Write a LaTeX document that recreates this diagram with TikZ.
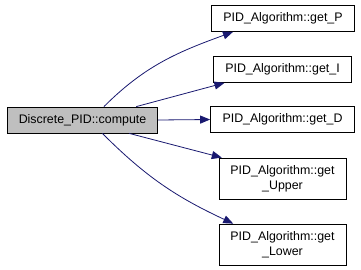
\documentclass[tikz,border=0pt]{standalone}
\usepackage{fontspec}
\setmainfont{Liberation Sans}
\usetikzlibrary{arrows.meta}

\definecolor{edgeblue}{RGB}{25,25,112}
\definecolor{callgray}{RGB}{191,191,191}

\tikzset{
  fn/.style    = {draw=black, line width=0.8pt, fill=white, inner xsep=12pt, inner ysep=3pt,
                  minimum height=26pt, align=center, font=\fontsize{12.4}{15}\selectfont},
  fntwo/.style = {fn, minimum height=41pt, inner xsep=11.5pt},
  caller/.style= {fn, fill=callgray, inner xsep=11.5pt},
  call/.style  = {->, draw=edgeblue, line width=0.8pt}
}

\begin{document}
\begin{tikzpicture}[>={Triangle[length=10pt,width=8pt]}]
  \useasboundingbox (0,0) rectangle (361pt,-270pt);

  % caller on the left, callees stacked on the right
  \node[caller] (compute) at (82.5pt,-120pt) {Discrete\_PID::compute};
  \node[fn] (getP)     at (283pt,-18.5pt)  {PID\_Algorithm::get\_P};
  \node[fn] (getI)     at (282.5pt,-69.5pt) {PID\_Algorithm::get\_I};
  \node[fn] (getD)     at (282.5pt,-119.5pt) {PID\_Algorithm::get\_D};
  \node[fntwo] (getUpper) at (282.5pt,-178.5pt) {PID\_Algorithm::get\\\_Upper};
  \node[fntwo] (getLower) at (282.5pt,-244.5pt) {PID\_Algorithm::get\\\_Lower};

  \draw[call] (compute.32)  to[out=45, in=200] (getP.195);
  \draw[call] (compute.14)  -- (getI.193);
  \draw[call] (compute.east) -- (getD.west);
  \draw[call] (compute.344) -- (getUpper.161);
  \draw[call] (compute.326) to[out=-45, in=155] (getLower.157);
\end{tikzpicture}
\end{document}
